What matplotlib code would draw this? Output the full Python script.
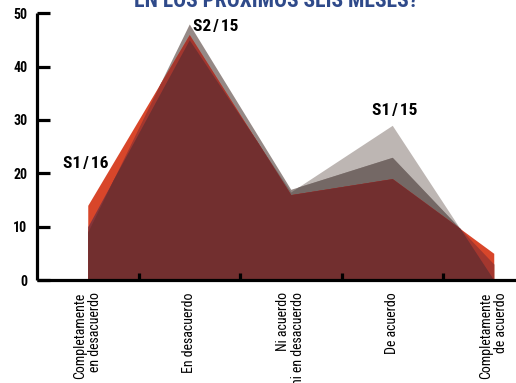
import numpy as np
import matplotlib
matplotlib.use("Agg")
import matplotlib.pyplot as plt
from matplotlib import font_manager

ttf = font_manager.fontManager.ttflist
names = {f.name for f in ttf}
NARROW = None
NARROW_STRETCH = "normal"
for cand in ["Liberation Sans Narrow", "Roboto Condensed", "Open Sans Condensed",
             "Noto Sans Condensed", "DejaVu Sans Condensed", "Arial Narrow"]:
    if cand in names:
        NARROW = cand
        break
if NARROW is None:
    cond = [f for f in ttf if (("ondensed" in f.fname) or ("arrow" in f.fname))]
    if cond:
        NARROW = cond[0].name
        NARROW_STRETCH = "condensed"
    else:
        NARROW = "Liberation Sans"
FAM = [NARROW, "DejaVu Sans"]

categories = ["Completamente\nen desacuerdo", "En desacuerdo",
              "Ni acuerdo\nni en desacuerdo", "De acuerdo",
              "Completamente\nde acuerdo"]
s1_16 = [14, 46, 16, 19, 5]
s2_15 = [9, 48, 17, 23, 3]
s1_15 = [10, 45, 16.5, 29, 0]
yticks = [0, 10, 20, 30, 40, 50]
series_labels = ["S1\u200a/\u200a16", "S2\u200a/\u200a15", "S1\u200a/\u200a15"]

C_LIGHT = "#BDB6B3"
C_S2 = "#958986"
C_MED = "#746865"
C_ORANGE = "#D8462A"
C_OS2 = "#A3372E"
C_OS1 = "#86353A"
C_MAROON = "#722F2F"

W, H = 516, 383
fig = plt.figure(figsize=(W / 100, H / 100), dpi=100)
left = 37 / W
bottom = (H - 280) / H
top = (H - 13.3) / H
width = 507.5 / W
ax = fig.add_axes([left, bottom, width, top - bottom])

x = np.arange(len(categories))
xf = np.linspace(0, len(categories) - 1, 2001)
o = np.interp(xf, x, s1_16)
a = np.interp(xf, x, s1_15)
b = np.interp(xf, x, s2_15)

kw = dict(linewidth=0, antialiased=True)
ax.fill_between(xf, 0, a, color=C_LIGHT, **kw)
ax.fill_between(xf, 0, b, color=C_S2, **kw)
ax.fill_between(xf, 0, np.minimum(a, b), color=C_MED, **kw)
ax.fill_between(xf, 0, o, color=C_ORANGE, **kw)
ax.fill_between(xf, 0, np.minimum(o, b), color=C_OS2, **kw)
ax.fill_between(xf, 0, np.minimum(o, a), color=C_OS1, **kw)
ax.fill_between(xf, 0, np.minimum(o, np.minimum(a, b)), color=C_MAROON, **kw)

ax.set_xlim(-0.5, 4.5)
ax.set_ylim(0, 50)
for s in ["top", "right"]:
    ax.spines[s].set_visible(False)
for s in ["left", "bottom"]:
    ax.spines[s].set_linewidth(2.3)
    ax.spines[s].set_color("black")
    ax.spines[s].set_capstyle("butt")

ax.set_yticks(yticks)
ax.set_yticklabels([str(v) for v in yticks], fontfamily=FAM,
                   fontstretch=NARROW_STRETCH, fontweight="bold", fontsize=10)
ax.tick_params(axis="y", direction="in", length=9.5, width=2.3, pad=7)

ax.set_xticks(x)
ax.set_xticklabels([])
ax.tick_params(axis="x", which="major", length=0)
ax.set_xticks(x[:-1] + 0.5, minor=True)
ax.tick_params(axis="x", which="minor", direction="in", length=5, width=2.3)

for xi, lab in zip(x, categories):
    ax.text(xi, -2.3, lab, rotation=90, ha="center", va="top",
            multialignment="right", fontfamily=FAM,
            fontstretch=NARROW_STRETCH, fontsize=10,
            linespacing=1.05, clip_on=False)

# series labels near their notable points
label_pos = [(0, s1_16[0]), (1, s2_15[1]), (3, s1_15[3])]
label_off = [(-0.02, 7.8), (0.26, -0.4), (0.02, 2.7)]
for lab, (xi, yi), (dx, dy) in zip(series_labels, label_pos, label_off):
    ax.text(xi + dx, yi + dy, lab, ha="center", va="center",
            fontfamily=FAM, fontstretch=NARROW_STRETCH,
            fontweight="bold", fontsize=12.5)

fig.text(276 / W, 1 - 7 / H, "EN LOS PRÓXIMOS SEIS MESES?", ha="center",
         va="baseline", fontfamily=FAM, fontstretch=NARROW_STRETCH,
         fontweight="bold", fontsize=15.5, color="#2F4A8A")

fig.savefig("out.png", dpi=100)
